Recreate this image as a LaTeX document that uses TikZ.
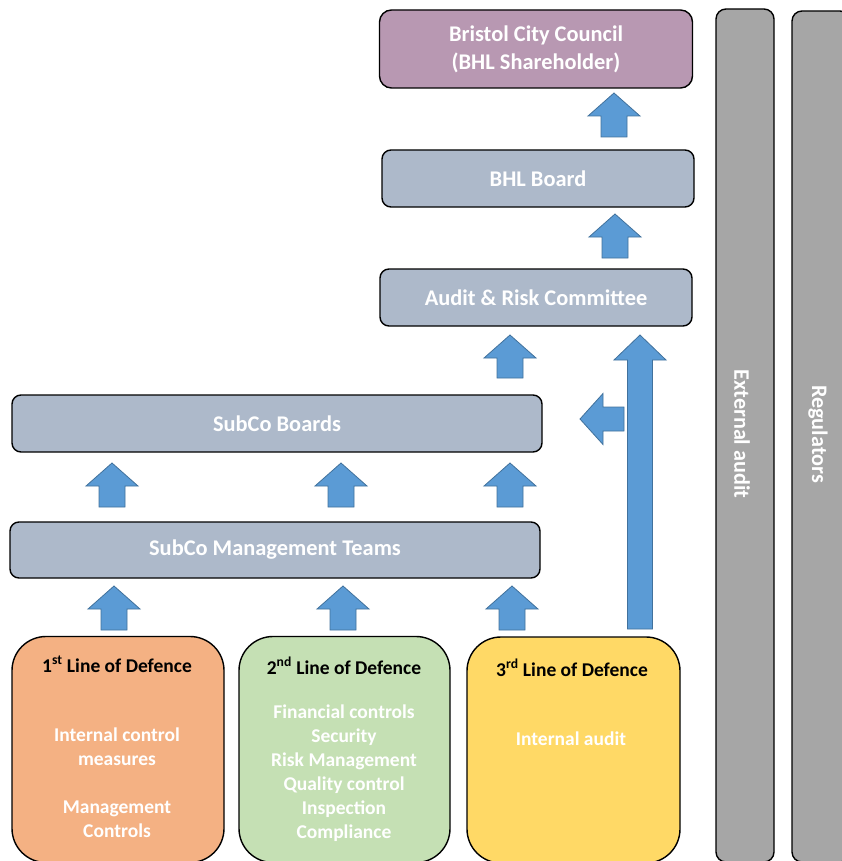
\documentclass[tikz,border=0pt]{standalone}
\usepackage{fontspec}
\setmainfont{Carlito}
\usetikzlibrary{positioning, calc}

\definecolor{council}{HTML}{B898B2}
\definecolor{boxgrey}{HTML}{ADB9CA}
\definecolor{first}{HTML}{F4B183}
\definecolor{second}{HTML}{C5E0B4}
\definecolor{third}{HTML}{FFD966}
\definecolor{bargrey}{HTML}{A6A6A6}
\definecolor{arrowblue}{HTML}{5B9BD5}
\definecolor{arrowedge}{HTML}{41719C}

% block arrow pointing up: tail, tip, shaft half width, head half width, head length
\newcommand\blockup[5]{%
  \draw[blockarrow] let \p1=#1, \p2=#2 in
    ({\x1-#3pt},\y1) -- ({\x1+#3pt},\y1) -- ({\x1+#3pt},{\y2-#5pt})
    -- ({\x1+#4pt},{\y2-#5pt}) -- (\x2,\y2) -- ({\x1-#4pt},{\y2-#5pt})
    -- ({\x1-#3pt},{\y2-#5pt}) -- cycle;}
% block arrow pointing left
\newcommand\blockleft[5]{%
  \draw[blockarrow] let \p1=#1, \p2=#2 in
    (\x1,{\y1-#3pt}) -- ({\x2+#5pt},{\y1-#3pt}) -- ({\x2+#5pt},{\y1-#4pt})
    -- (\x2,\y2) -- ({\x2+#5pt},{\y1+#4pt}) -- ({\x2+#5pt},{\y1+#3pt})
    -- (\x1,{\y1+#3pt}) -- cycle;}

\begin{document}
\begin{tikzpicture}[x=1pt, y=-1pt,
  box/.style={draw=black, line width=1.4pt, rounded corners=9pt, fill=boxgrey,
    text=white, font=\bfseries\fontsize{22.4}{28}\selectfont, align=center,
    inner sep=0pt, minimum height=57pt},
  topbox/.style={box, fill=council, rounded corners=12pt},
  defence/.style={draw=black, line width=1.4pt, rounded corners=34pt,
    inner sep=0pt, minimum width=212pt, minimum height=226pt},
  bar/.style={draw=black, line width=1.4pt, rounded corners=10pt, fill=bargrey,
    inner sep=0pt, minimum width=58pt},
  title/.style={font=\bfseries\fontsize{19.5}{24}\selectfont, text=black},
  body/.style={font=\bfseries\fontsize{19.5}{24}\selectfont, text=white, align=center},
  bartext/.style={text=white, font=\bfseries\fontsize{22.2}{26}\selectfont, rotate=-90},
  blockarrow/.style={fill=arrowblue, draw=arrowedge, line width=0.8pt}
]
\useasboundingbox (0,0) rectangle (842,861);

% side bars
\node[bar, minimum height=853pt] (ext) at (745,435.5) {};
\node[bar, minimum height=851pt] (reg) at (821,436.5) {};
\node[bartext] (extlabel) at (742,434) {External audit};
\node[bartext] (reglabel) at (818,434) {Regulators};

% governance boxes
\node[topbox, minimum width=313pt, minimum height=78pt] (bcc) at (536,49)
  {Bristol City Council\\(BHL Shareholder)};
\node[box, minimum width=312pt] (bhl) at (538,178.5) {BHL Board};
\node[box, minimum width=312pt] (arc) at (536,297.5) {Audit \& Risk Committee};
\node[box, minimum width=530pt] (subb) at (277,423.5) {SubCo Boards};
\node[box, minimum width=530pt, minimum height=56pt] (subm) at (275,550)
  {SubCo Management Teams};

% lines of defence
\node[defence, fill=first] (l1) at (118,749.5) {};
\node[defence, fill=second, minimum width=211pt] (l2) at (344.5,749.5) {};
\node[defence, fill=third, minimum width=213pt] (l3) at (573.5,750) {};

\node[title] (l1t) at (117,664) {1\textsuperscript{st} Line of Defence};
\node[title] (l2t) at (344,666) {2\textsuperscript{nd} Line of Defence};
\node[title] (l3t) at (572,668) {3\textsuperscript{rd} Line of Defence};

\node[body] (l1b) at (117,783) {Internal control\\measures\\[24pt]Management\\Controls};
\node[body] (l2b) at (344,773) {Financial controls\\Security\\Risk Management\\
  Quality control\\Inspection\\Compliance};
\node[body] (l3b) at (571,739) {Internal audit};

% arrows
\coordinate (bhltail) at (614,137);  \coordinate (bhltip) at (614,93);
\coordinate (arctail) at (615,258);  \coordinate (arctip) at (615,214);
\coordinate (subtail) at (510,378);  \coordinate (subtip) at (510,335);
\coordinate (iatail) at (640,629);   \coordinate (iatip) at (640,335);
\coordinate (lefttail) at (624,419); \coordinate (lefttip) at (580,419);

\blockup{(bhltail)}{(bhltip)}{13}{26}{23}
\blockup{(arctail)}{(arctip)}{13}{26}{23}
\blockup{(subtail)}{(subtip)}{13}{26}{23}
\blockup{(iatail)}{(iatip)}{12.5}{26}{25}
\blockleft{(lefttail)}{(lefttip)}{12}{25.5}{23}

\foreach \colx in {112,341,510}
  \blockup{(\colx,507)}{(\colx,463)}{13}{26}{23};
\foreach \colx in {114,343,512}
  \blockup{(\colx,630)}{(\colx,586)}{13}{26}{23};
\end{tikzpicture}
\end{document}
